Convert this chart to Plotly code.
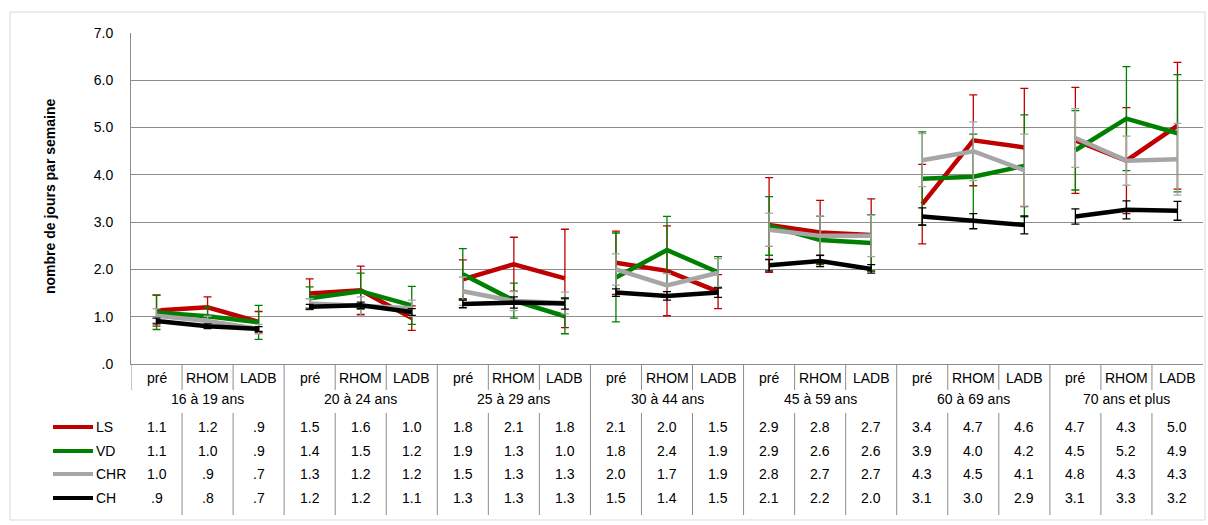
import plotly.graph_objects as go

groups = ["16 à 19 ans", "20 à 24 ans", "25 à 29 ans", "30 à 44 ans",
          "45 à 59 ans", "60 à 69 ans", "70 ans et plus"]
periods = ["pré", "RHOM", "LADB"]

ls = [1.13, 1.20, 0.89, 1.49, 1.56, 0.97, 1.79, 2.11, 1.81, 2.14, 1.97, 1.53,
      2.94, 2.78, 2.73, 3.38, 4.73, 4.58, 4.73, 4.30, 5.04]
vd = [1.09, 1.01, 0.88, 1.39, 1.54, 1.24, 1.90, 1.34, 1.01, 1.83, 2.41, 1.94,
      2.92, 2.62, 2.56, 3.92, 3.96, 4.19, 4.52, 5.19, 4.88]
chr_ = [1.02, 0.91, 0.74, 1.28, 1.22, 1.18, 1.54, 1.33, 1.29, 2.00, 1.66, 1.93,
        2.84, 2.71, 2.71, 4.31, 4.50, 4.10, 4.78, 4.30, 4.33]
ch = [0.91, 0.80, 0.74, 1.21, 1.24, 1.10, 1.27, 1.30, 1.28, 1.51, 1.44, 1.51,
      2.09, 2.18, 2.01, 3.12, 3.02, 2.94, 3.12, 3.26, 3.24]

ls_err = [0.33, 0.22, 0.22, 0.31, 0.51, 0.26, 0.41, 0.57, 1.04, 0.67, 0.95, 0.36,
          1.00, 0.68, 0.76, 0.84, 0.96, 1.25, 1.12, 1.12, 1.34]
vd_err = [0.36, 0.20, 0.36, 0.24, 0.38, 0.40, 0.54, 0.37, 0.37, 0.94, 0.71, 0.33,
          0.62, 0.50, 0.60, 0.99, 0.90, 1.08, 0.84, 1.10, 1.24]
chr_err = [0.15, 0.10, 0.10, 0.10, 0.20, 0.17, 0.30, 0.20, 0.23, 0.33, 0.25, 0.30,
           0.35, 0.42, 0.44, 0.56, 0.62, 0.76, 0.62, 0.52, 0.76]
ch_err = [0.06, 0.05, 0.05, 0.05, 0.07, 0.07, 0.08, 0.12, 0.12, 0.08, 0.09, 0.10,
          0.12, 0.12, 0.09, 0.18, 0.16, 0.19, 0.16, 0.19, 0.20]

series = [
    ("LS", ls, ls_err, "#c00000"),
    ("VD", vd, vd_err, "#008000"),
    ("CHR", chr_, chr_err, "#a6a6a6"),
    ("CH", ch, ch_err, "#000000"),
]

FONT = "Liberation Sans Narrow, Arial Narrow, Liberation Sans, Arial"
n = len(groups) * len(periods)

fig = go.Figure()
for name, vals, errs, col in series:
    for g in range(len(groups)):
        idx = list(range(3 * g, 3 * g + 3))
        fig.add_trace(go.Scatter(
            x=idx, y=[vals[i] for i in idx], mode="lines", name=name,
            legendgroup=name, showlegend=False,
            line=dict(color=col, width=4.5),
            error_y=dict(type="data", array=[errs[i] for i in idx],
                         color=col, thickness=1.3, width=4),
        ))

def py(pix):
    # pixel row -> paper y
    return (364 - pix) / 331

def px(pix):
    return (pix - 131) / 1072

def label(x, y, text, xref="x", xanchor="center", **kw):
    return dict(x=x, y=y, xref=xref, yref="paper", text=text, showarrow=False,
                xanchor=xanchor, yanchor="middle", font=dict(size=14), **kw)

ann = []
shapes = []
for i in range(n):
    ann.append(label(i, py(378), periods[i % 3]))
for g, lab in enumerate(groups):
    ann.append(label(3 * g + 1, py(399), lab))

rows_y = [427, 451, 474, 498]
for (name, vals, errs, col), ry in zip(series, rows_y):
    for i, v in enumerate(vals):
        t = f"{v:.1f}"
        if t.startswith("0"):
            t = t[1:]
        ann.append(label(i, py(ry), t))
    ann.append(label(px(94), py(ry), name, xref="paper", xanchor="left"))
    shapes.append(dict(type="line", xref="paper", yref="paper", x0=px(53), x1=px(93),
                       y0=py(ry), y1=py(ry), line=dict(color=col, width=4)))

grid_col = "#8c8c8c"
for k in range(n + 1):
    xk = k - 0.5
    if k % 3 == 0 and 0 < k < n:
        shapes.append(dict(type="line", xref="x", yref="paper", x0=xk, x1=xk,
                           y0=0, y1=py(515), line=dict(color=grid_col, width=1)))
    elif k == 0:
        shapes.append(dict(type="line", xref="x", yref="paper", x0=xk, x1=xk,
                           y0=0, y1=py(390), line=dict(color=grid_col, width=1)))
    elif k < n:
        shapes.append(dict(type="line", xref="x", yref="paper", x0=xk, x1=xk,
                           y0=0, y1=py(390), line=dict(color=grid_col, width=1)))
        shapes.append(dict(type="line", xref="x", yref="paper", x0=xk, x1=xk,
                           y0=py(413), y1=py(515), line=dict(color=grid_col, width=1)))

# outer chart border
shapes.append(dict(type="rect", xref="paper", yref="paper", x0=px(10), x1=px(1205),
                   y0=py(520), y1=py(12), line=dict(color="#d9d9d9", width=1)))

ann.append(dict(x=px(50), y=py(197), xref="paper", yref="paper",
                text="<b>nombre de jours par semaine</b>", textangle=-90,
                xanchor="center", yanchor="middle", showarrow=False,
                font=dict(size=14)))

fig.update_layout(
    width=1208, height=525,
    margin=dict(l=131, r=5, t=33, b=161),
    plot_bgcolor="white", paper_bgcolor="white",
    font=dict(family=FONT, size=14, color="black"),
    xaxis=dict(range=[-0.5, n - 0.5], showticklabels=False, ticks="",
               showgrid=False, zeroline=False, showline=True,
               linecolor=grid_col, linewidth=1),
    yaxis=dict(range=[0, 7], tickvals=[0, 1, 2, 3, 4, 5, 6, 7],
               ticktext=[".0", "1.0", "2.0", "3.0", "4.0", "5.0", "6.0", "7.0"],
               showgrid=True, gridcolor=grid_col, gridwidth=1, zeroline=False,
               showline=True, linecolor=grid_col, ticks="",
               ticklabelstandoff=14, tickfont=dict(size=14)),
    annotations=ann, shapes=shapes,
    showlegend=False,
)

fig.write_html("out.html", config={"displayModeBar": False},
               post_script="document.body.style.margin='0';")
